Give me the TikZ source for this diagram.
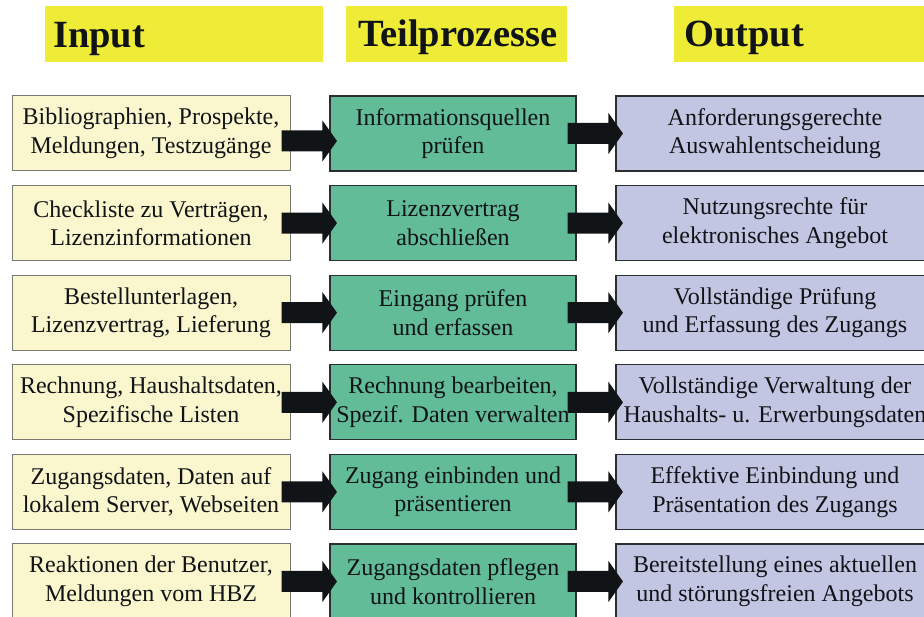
\documentclass[tikz,border=0pt]{standalone}
\usepackage{fontspec}
\setmainfont{Liberation Serif}
\usetikzlibrary{calc}
\definecolor{hdryellow}{HTML}{EFEC38}
\definecolor{inpfill}{HTML}{FAF6CE}
\definecolor{inpborder}{HTML}{7A7A72}
\definecolor{midfill}{HTML}{62BC98}
\definecolor{outfill}{HTML}{C3C6E3}
\definecolor{darkborder}{HTML}{2A2E30}
\definecolor{arrowblack}{HTML}{111416}
\tikzset{
  hdrbox/.style={fill=hdryellow, draw=none, minimum height=56pt, inner sep=0pt},
  hdrtext/.style={anchor=base west, inner sep=0pt, font=\fontsize{38.5}{40}\selectfont\bfseries, text=arrowblack},
  boxtext/.style={align=center, font=\fontsize{24}{28.5}\selectfont, text=arrowblack, inner sep=0pt, minimum height=75pt},
  inbox/.style={boxtext, fill=inpfill, draw=inpborder, line width=1pt, minimum width=278pt},
  midbox/.style={boxtext, fill=midfill, draw=darkborder, line width=1.1pt, minimum width=246pt},
  outbox/.style={boxtext, fill=outfill, draw=darkborder, line width=1.1pt, minimum width=318pt},
  blockarrow/.style={fill=arrowblack, draw=none}
}
\newcommand\barrow[3][0pt]{%
  \fill[blockarrow] let \p1=([yshift=#1]#2.east), \p2=(#3.west) in
    (\x1-9pt,\y1+10.5pt) -- (\x2-7pt,\y1+10.5pt) -- (\x2-7pt,\y1+20.5pt)
    -- (\x2+7.5pt,\y1) -- (\x2-7pt,\y1-20.5pt) -- (\x2-7pt,\y1-10.5pt)
    -- (\x1-9pt,\y1-10.5pt) -- cycle;}
\begin{document}
\begin{tikzpicture}[x=1pt,y=1pt]
\useasboundingbox (0,0) rectangle (924,616);
\clip (0,0) rectangle (924,616);
% headers
\node[hdrbox, minimum width=278pt] (h1) at (184,582) {};
\node[hdrbox, minimum width=221pt] (h2) at (456.5,582) {};
\node[hdrbox, minimum width=256pt] (h3) at (802,582) {};
\node[hdrtext] (h1t) at (53,568) {Input};
\node[hdrtext] (h2t) at (358,569) {Teilprozesse};
\node[hdrtext] (h3t) at (684,569) {Output};
% row 1
\node[inbox]  (i1) at (151,482.5) {Bibliographien, Prospekte,\\Meldungen, Testzugänge};
\node[midbox] (m1) at (453,482.5) {Informationsquellen\\prüfen};
\node[outbox] (o1) at (775,482.5) {Anforderungsgerechte\\Auswahlentscheidung};
% row 2
\node[inbox]  (i2) at (151,392.9) {Checkliste zu Verträgen,\\Lizenzinformationen};
\node[midbox] (m2) at (453,392.9) {Lizenzvertrag\\abschließen};
\node[outbox] (o2) at (775,392.9) {Nutzungsrechte für\\elektronisches Angebot};
% row 3
\node[inbox]  (i3) at (151,303.3) {Bestellunterlagen,\\Lizenzvertrag, Lieferung};
\node[midbox] (m3) at (453,303.3) {Eingang prüfen\\und erfassen};
\node[outbox] (o3) at (775,303.3) {Vollständige Prüfung\\und Erfassung des Zugangs};
% row 4
\node[inbox]  (i4) at (151,213.7) {Rechnung, Haushaltsdaten,\\Spezifische Listen};
\node[midbox] (m4) at (453,213.7) {Rechnung bearbeiten,\\Spezif. Daten verwalten};
\node[outbox] (o4) at (775,213.7) {Vollständige Verwaltung der\\Haushalts- u. Erwerbungsdaten};
% row 5
\node[inbox]  (i5) at (151,124.1) {Zugangsdaten, Daten auf\\lokalem Server, Webseiten};
\node[midbox] (m5) at (453,124.1) {Zugang einbinden und\\präsentieren};
\node[outbox] (o5) at (775,124.1) {Effektive Einbindung und\\Präsentation des Zugangs};
% row 6
\node[inbox]  (i6) at (151,34.5) {Reaktionen der Benutzer,\\Meldungen vom HBZ};
\node[midbox] (m6) at (453,34.5) {Zugangsdaten pflegen\\und kontrollieren};
\node[outbox] (o6) at (775,34.5) {Bereitstellung eines aktuellen\\und störungsfreien Angebots};
% arrows
\barrow[-7.5pt]{i1}{m1}
\barrow{m1}{o1}
\barrow{i2}{m2}
\barrow{m2}{o2}
\barrow{i3}{m3}
\barrow{m3}{o3}
\barrow{i4}{m4}
\barrow{m4}{o4}
\barrow{i5}{m5}
\barrow{m5}{o5}
\barrow{i6}{m6}
\barrow{m6}{o6}
\end{tikzpicture}
\end{document}
